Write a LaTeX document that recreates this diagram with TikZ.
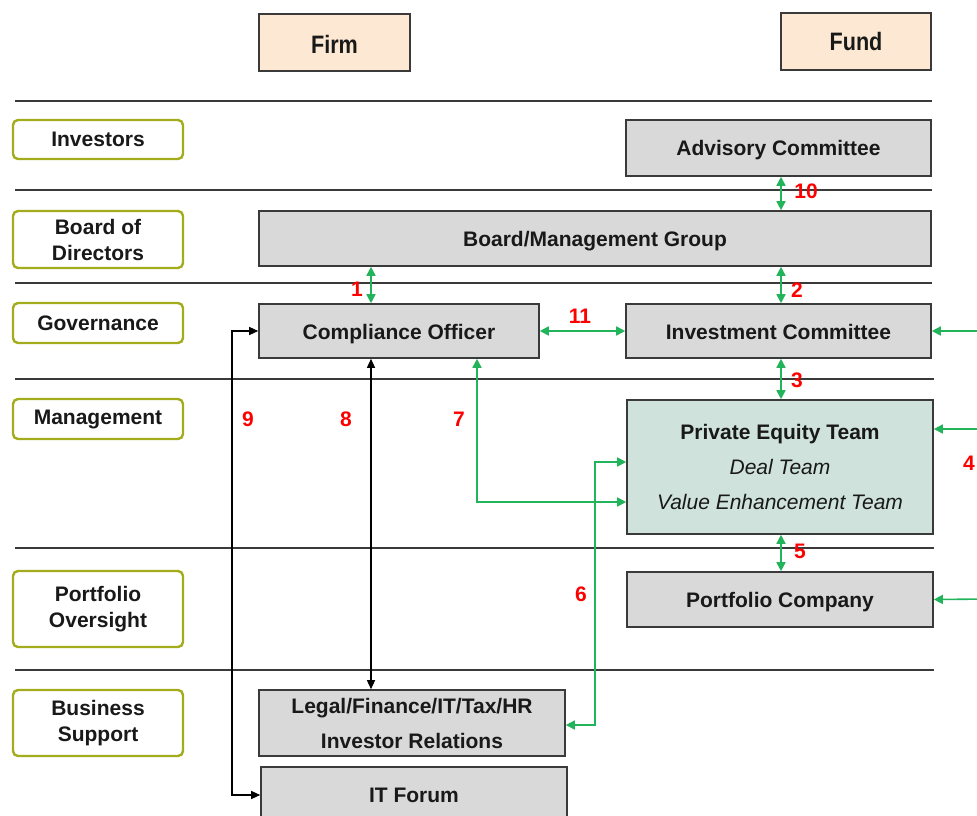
\documentclass[tikz,border=0pt]{standalone}
\usepackage{fontspec}
\setmainfont{Liberation Sans}
\usetikzlibrary{arrows.meta,calc}
\definecolor{boxgray}{HTML}{D9D9D9}
\definecolor{peach}{HTML}{FCE8D3}
\definecolor{teal}{HTML}{CFE2DC}
\definecolor{olive}{HTML}{A3AD1C}
\definecolor{edge}{HTML}{3A3A3A}
\definecolor{gline}{HTML}{22B45A}
\definecolor{numred}{HTML}{FF0000}
\newcommand{\lowr}[2]{\raisebox{-#1}[\height][\depth]{#2}}
\tikzset{
  base/.style={draw=edge, line width=1.6pt, align=center, inner sep=0pt,
    font=\fontsize{21}{35}\selectfont\bfseries, text=black!90},
  graybox/.style={base, fill=boxgray},
  headbox/.style={base, fill=peach, font=\fontsize{24}{26}\selectfont\bfseries},
  lblbox/.style={draw=olive, line width=2.4pt, rounded corners=5pt, align=center,
    inner sep=0pt, minimum width=170pt, font=\fontsize{21}{26}\selectfont\bfseries, text=black!90},
  hline/.style={draw=edge, line width=1.4pt},
  garrow/.style={draw=gline, line width=1.6pt, {Triangle[length=9pt,width=9pt]}-{Triangle[length=9pt,width=9pt]}},
  gtip/.style={draw=gline, line width=1.6pt, -{Triangle[length=9pt,width=9pt]}},
  karrow/.style={draw=black, line width=1.3pt, {Triangle[length=9pt,width=8pt]}-{Triangle[length=9pt,width=8pt]}},
  num/.style={text=numred, font=\fontsize{21}{24}\selectfont\bfseries, inner sep=0pt}
}
\begin{document}
\begin{tikzpicture}[x=1pt,y=-1pt]
\clip (0,0) rectangle (977,816);
\fill[white] (0,0) rectangle (977,816);
% horizontal rules
\draw[hline] (15,101) -- (932,101);
\draw[hline] (15,190) -- (932,190);
\draw[hline] (15,283) -- (932,283);
\draw[hline] (15,379) -- (934,379);
\draw[hline] (15,548) -- (934,548);
\draw[hline] (15,670) -- (934,670);
% headers
\node[headbox, minimum width=151pt, minimum height=57pt] (firm) at (334.5,42.5) {\lowr{2pt}{\scalebox{0.9}[1.05]{Firm}}};
\node[headbox, minimum width=150pt, minimum height=57pt] (fund) at (856,41.5) {\scalebox{0.9}[1.05]{Fund}};
% left labels
\node[lblbox, minimum height=39pt] (linv) at (98,139.5) {Investors};
\node[lblbox, minimum height=57pt] (lbod) at (98,239.5) {Board of\\Directors};
\node[lblbox, minimum height=40pt] (lgov) at (98,323) {Governance};
\node[lblbox, minimum height=40pt] (lman) at (98,419) {Management};
\node[lblbox, minimum height=76pt] (lpor) at (98,609) {Portfolio\\Oversight};
\node[lblbox, minimum height=66pt] (lbus) at (98,723) {Business\\Support};
% boxes
\node[graybox, minimum width=305pt, minimum height=56pt] (adv) at (778.5,148) {\lowr{2pt}{Advisory Committee}};
\node[graybox, minimum width=672pt, minimum height=55pt] (bmg) at (595,238.5) {\lowr{3pt}{Board/Management Group}};
\node[graybox, minimum width=280pt, minimum height=54pt] (co) at (399,331) {\lowr{3pt}{Compliance Officer}};
\node[graybox, minimum width=305pt, minimum height=54pt] (ic) at (778.5,331) {\lowr{1pt}{Investment Committee}};
\node[base, fill=teal, minimum width=306pt, minimum height=134pt] (pe) at (780,467)
  {Private Equity Team\\{\mdseries\itshape Deal Team}\\{\mdseries\itshape Value Enhancement Team}};
\node[graybox, minimum width=306pt, minimum height=55pt] (pc) at (780,599.5) {\lowr{3pt}{Portfolio Company}};
\node[graybox, minimum width=306pt, minimum height=66pt] (legal) at (412,723) {Legal/Finance/IT/Tax/HR\\Investor Relations};
\node[graybox, minimum width=306pt, minimum height=58pt, anchor=north] (itf) at (414,766) {};
\node[font=\fontsize{21}{22}\selectfont\bfseries, text=black!90] (itft) at (414,795) {IT Forum};
% helper coordinates
\coordinate (x1) at (371,0);
\coordinate (x2) at (781,0);
\coordinate (c9) at (232,0);
\coordinate (c7) at (477,502);
\coordinate (c6) at (595,462);
\coordinate (r1) at (990,331);
\coordinate (r2) at (990,429);
\coordinate (r3) at (990,599);
% green connectors
\draw[garrow] (adv.south -| x2) -- (bmg.north -| x2);
\draw[garrow] (bmg.south -| x1) -- (co.north -| x1);
\draw[garrow] (bmg.south -| x2) -- (ic.north -| x2);
\draw[garrow] (co.east) -- (ic.west);
\draw[garrow] (ic.south -| x2) -- (pe.north -| x2);
\draw[garrow] (pe.south -| x2) -- (pc.north -| x2);
\draw[garrow] (co.south -| c7) |- (pe.west |- c7);
\draw[garrow] ([yshift=-2pt]legal.east) -| (c6) -- (pe.west |- c6);
\draw[gtip] (r1) -- (ic.east);
\draw[gtip] (r2) -- (pe.east |- r2);
\draw[gtip] (r3) -- (pc.east);
% black connectors
\draw[karrow] (co.south -| x1) -- (legal.north -| x1);
\draw[karrow] (co.west) -- (co.west -| c9) |- (itf.west |- itft);
% numbers
\node[num] (n10) at (806,191) {10};
\node[num] (n1) at (357,289) {1};
\node[num] (n2) at (797,290) {2};
\node[num] (n11) at (580,316) {11};
\node[num] (n3) at (797,380) {3};
\node[num] (n4) at (969,463) {4};
\node[num] (n5) at (800,551) {5};
\node[num] (n6) at (581,594) {6};
\node[num] (n7) at (459,419) {7};
\node[num] (n8) at (346,419) {8};
\node[num] (n9) at (248,419) {9};
\end{tikzpicture}
\end{document}
